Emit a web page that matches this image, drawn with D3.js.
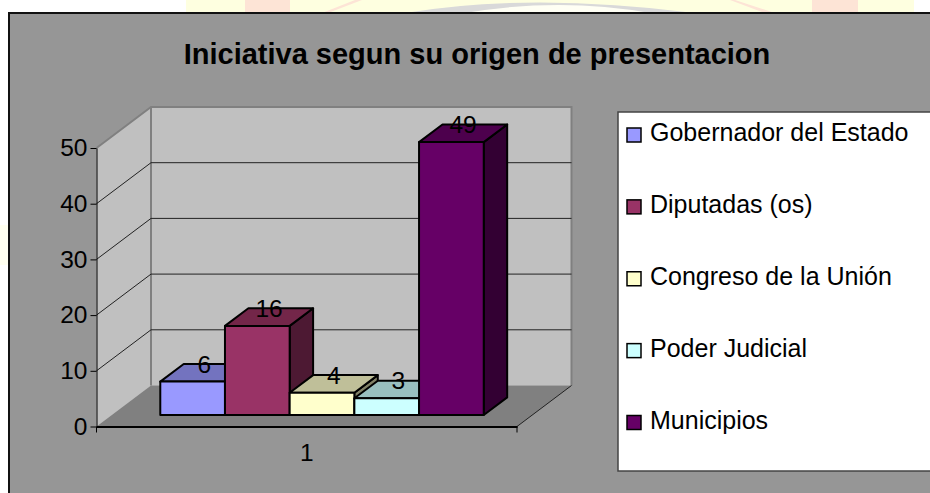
<!DOCTYPE html>
<html>
<head>
<meta charset="utf-8">
<script src="https://d3js.org/d3.v7.min.js"></script>
<style>
    html, body { margin: 0; padding: 0; background: #fff; }
    svg { display: block; }
    text { font-family: "Liberation Sans", Arial, sans-serif; fill: #000; }
    .axis path, .axis line { stroke: #000; }
</style>
</head>
<body>
<div id="chart"></div>
<script>
// chart data
var title = "Iniciativa segun su origen de presentacion";
var categories = ["1"];
var seriesNames = ["Gobernador del Estado", "Diputadas (os)", "Congreso de la Unión", "Poder Judicial", "Municipios"];
var seriesValues = [6, 16, 4, 3, 49];
var yTicks = [0, 10, 20, 30, 40, 50];
var frontColors = ["#9999ff", "#993366", "#ffffcc", "#ccffff", "#660066"];
var topColors = ["#7373bf", "#732649", "#bfbf99", "#99bfbf", "#4d004d"];
var sideColors = ["#4d4d80", "#4d1933", "#808066", "#668080", "#330033"];

var width = 930, height = 493;

var svg = d3.select("#chart").append("svg")
    .attr("width", width)
    .attr("height", height);

// faint page watermark that shows above the chart
var page = svg.append("g");
page.append("rect").attr("x", 186).attr("y", 0).attr("width", 728).attr("height", 13).attr("fill", "#feffe0");
page.append("rect").attr("x", 245).attr("y", 0).attr("width", 45).attr("height", 13).attr("fill", "#fde4d6");
page.append("rect").attr("x", 812).attr("y", 0).attr("width", 46).attr("height", 13).attr("fill", "#fde4d6");
page.append("path").attr("d", "M328,13 L362,0 L355,0 L322,13 Z").attr("fill", "#fde4d6");
page.append("path").attr("d", "M735,0 L775,13 L765,13 L730,0 Z").attr("fill", "#fde4d6");
page.append("path").attr("d", "M405,13 Q530,-8 695,13 Z").attr("fill", "#d9d9d9");
page.append("path").attr("d", "M465,13 Q560,-3 650,13 Z").attr("fill", "#fffff4");
page.append("rect").attr("x", 0).attr("y", 225).attr("width", 8).attr("height", 40).attr("fill", "#fffff0");

// chart area
svg.append("rect")
    .attr("x", 9).attr("y", 13)
    .attr("width", width + 20).attr("height", height + 20)
    .attr("fill", "#969696")
    .attr("stroke", "#111")
    .attr("stroke-width", 2);

svg.append("text")
    .attr("x", 477).attr("y", 64)
    .attr("text-anchor", "middle")
    .attr("font-size", 29)
    .attr("font-weight", "bold")
    .text(title);

// set the ranges
var y = d3.scaleLinear().domain([0, 50]).range([426.5, 148]);
var x0 = d3.scaleBand().domain(categories).range([96.5, 517]).paddingInner(0).paddingOuter(0.15);
var x1 = d3.scaleBand().domain(seriesNames).range([0, x0.bandwidth()]);

// depth of the 3d box
var depthX = 54.5, depthY = 41;
var barFront = 0.28, barBack = 0.71;

function project(px, value, z) {
    return [px + z * depthX, y(value) - z * depthY];
}

var area = d3.line();
var plot = svg.append("g");
var x0Min = x0.range()[0], x0Max = x0.range()[1];

// floor and walls
plot.append("path")
    .attr("d", area([project(x0Min, 0, 0), project(x0Max, 0, 0), project(x0Max, 0, 1), project(x0Min, 0, 1)]) + "Z")
    .attr("fill", "#808080");
plot.append("path")
    .attr("d", area([project(x0Min, 0, 0), project(x0Min, 50, 0), project(x0Min, 50, 1), project(x0Min, 0, 1)]) + "Z")
    .attr("fill", "#c0c0c0");
plot.append("path")
    .attr("d", area([project(x0Min, 0, 1), project(x0Min, 50, 1), project(x0Max, 50, 1), project(x0Max, 0, 1)]) + "Z")
    .attr("fill", "#c0c0c0");

// wall edges
plot.append("path")
    .attr("d", area([project(x0Min, 50, 0), project(x0Min, 50, 1), project(x0Max, 50, 1), project(x0Max, 0, 1)]))
    .attr("fill", "none")
    .attr("stroke", "#808080")
    .attr("stroke-width", 2);
plot.append("path")
    .attr("d", area([project(x0Min, 50, 1), project(x0Min, 0, 1)]))
    .attr("stroke", "#808080")
    .attr("stroke-width", 2);

// gridlines run along the side wall and the back wall
plot.selectAll(".grid")
    .data(yTicks.filter(function (d) { return d > 0 && d < 50; }))
    .enter().append("path")
    .attr("class", "grid")
    .attr("d", function (d) {
        return area([project(x0Min, d, 0), project(x0Min, d, 1), project(x0Max, d, 1)]);
    })
    .attr("fill", "none")
    .attr("stroke", "#222")
    .attr("stroke-width", 1);

// floor edge on the right
plot.append("path")
    .attr("d", area([project(x0Max, 0, 0), project(x0Max, 0, 1)]))
    .attr("stroke", "#222")
    .attr("stroke-width", 1);

// bars, left to right so the later ones cover the earlier sides
var bars = plot.selectAll(".bar")
    .data(seriesNames)
    .enter().append("g")
    .attr("class", "bar")
    .attr("stroke", "#000")
    .attr("stroke-width", 2)
    .attr("stroke-linejoin", "round");

function barX(d) { return x0(categories[0]) + x1(d); }

bars.append("path")
    .attr("fill", function (d, i) { return sideColors[i]; })
    .attr("d", function (d, i) {
        var r = barX(d) + x1.bandwidth(), v = seriesValues[i];
        return area([project(r, 0, barFront), project(r, v, barFront), project(r, v, barBack), project(r, 0, barBack)]) + "Z";
    });
bars.append("path")
    .attr("fill", function (d, i) { return topColors[i]; })
    .attr("d", function (d, i) {
        var l = barX(d), r = l + x1.bandwidth(), v = seriesValues[i];
        return area([project(l, v, barFront), project(r, v, barFront), project(r, v, barBack), project(l, v, barBack)]) + "Z";
    });
bars.append("path")
    .attr("fill", function (d, i) { return frontColors[i]; })
    .attr("d", function (d, i) {
        var l = barX(d), r = l + x1.bandwidth(), v = seriesValues[i];
        return area([project(l, 0, barFront), project(r, 0, barFront), project(r, v, barFront), project(l, v, barFront)]) + "Z";
    });

// data labels sit on the middle of the bar top
plot.selectAll(".label")
    .data(seriesNames)
    .enter().append("text")
    .attr("class", "label")
    .attr("text-anchor", "middle")
    .attr("font-size", 24.5)
    .attr("x", function (d) { return project(barX(d) + x1.bandwidth() / 2, 0, (barFront + barBack) / 2)[0]; })
    .attr("y", function (d, i) { return project(0, seriesValues[i], (barFront + barBack) / 2)[1]; })
    .text(function (d, i) { return seriesValues[i]; });

// add the y Axis
var yAxis = svg.append("g")
    .attr("class", "axis")
    .attr("transform", "translate(" + x0Min + ",0)")
    .call(d3.axisLeft(y).tickValues(yTicks).tickSize(6).tickPadding(3).tickSizeOuter(0));
yAxis.selectAll("text").attr("font-size", 24.5).attr("font-family", null);

// add the x Axis
var xAxis = svg.append("g")
    .attr("class", "axis")
    .attr("transform", "translate(0," + y(0) + ")")
    .call(d3.axisBottom(x0).tickSize(0).tickPadding(17));
xAxis.selectAll("text").attr("font-size", 24.5).attr("font-family", null);
xAxis.select(".domain").attr("stroke-width", 2);
xAxis.selectAll(".edge")
    .data(x0.range())
    .enter().append("line")
    .attr("class", "edge")
    .attr("x1", function (d) { return d; })
    .attr("x2", function (d) { return d; })
    .attr("y1", 0)
    .attr("y2", 6)
    .attr("stroke", "#000");

// legend
svg.append("rect")
    .attr("x", 618).attr("y", 112)
    .attr("width", width).attr("height", 359)
    .attr("fill", "#fff")
    .attr("stroke", "#444")
    .attr("stroke-width", 1.5);

var legendY = d3.scalePoint().domain(seriesNames).range([135, 422.5]);

var legend = svg.selectAll(".legend")
    .data(seriesNames)
    .enter().append("g")
    .attr("class", "legend")
    .attr("transform", function (d) { return "translate(627," + legendY(d) + ")"; });

legend.append("rect")
    .attr("x", 0).attr("y", -7)
    .attr("width", 14).attr("height", 14)
    .attr("fill", function (d, i) { return frontColors[i]; })
    .attr("stroke", "#000")
    .attr("stroke-width", 1.5);

legend.append("text")
    .attr("x", 23).attr("y", 6)
    .attr("font-size", 25)
    .text(function (d) { return d; });
</script>
</body>
</html>
